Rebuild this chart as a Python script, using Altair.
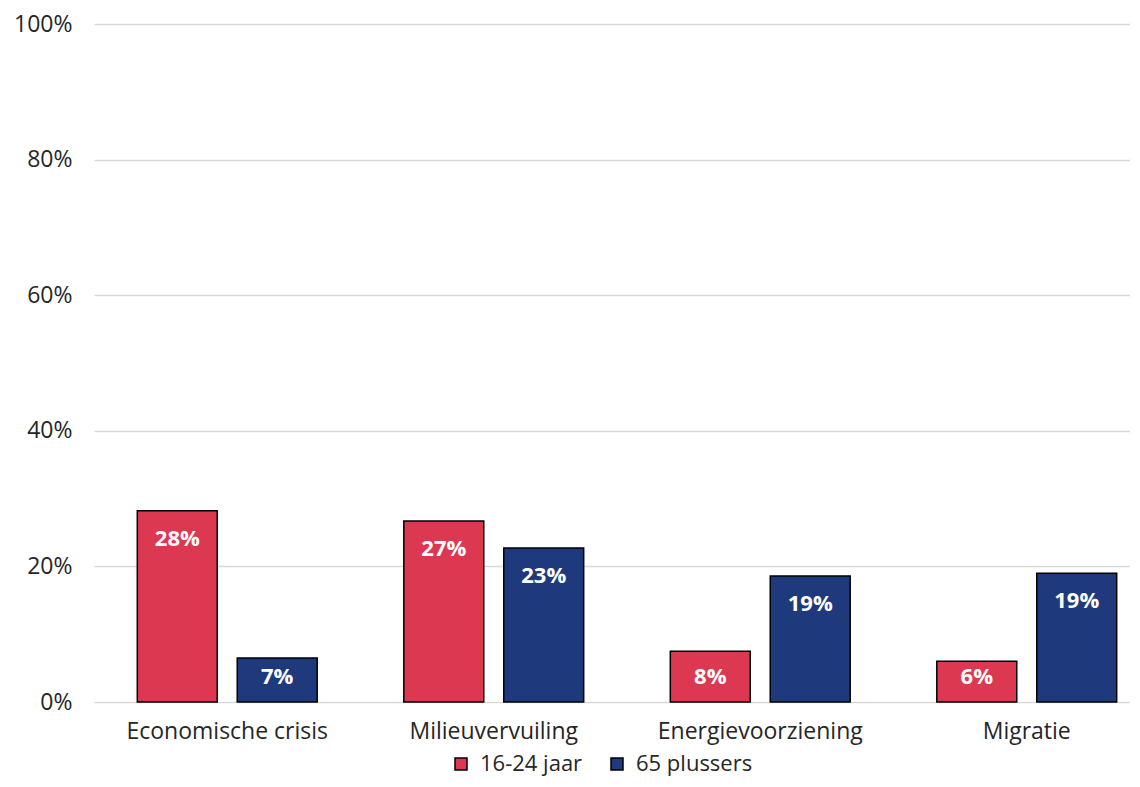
import altair as alt
import pandas as pd

categories = ["Economische crisis", "Milieuvervuiling", "Energievoorziening", "Migratie"]
groups = ["16-24 jaar", "65 plussers"]
values_young = [28.2, 26.7, 7.5, 6.0]
values_old = [6.5, 22.7, 18.6, 19.0]
labels_young = ["28%", "27%", "8%", "6%"]
labels_old = ["7%", "23%", "19%", "19%"]
colors = ["#DC3852", "#1F3A7C"]
y_ticks = [0, 20, 40, 60, 80, 100]

rows = []
for i, c in enumerate(categories):
    rows.append({"cat": c, "group": groups[0], "value": values_young[i], "label": labels_young[i]})
    rows.append({"cat": c, "group": groups[1], "value": values_old[i], "label": labels_old[i]})
df = pd.DataFrame(rows)

FONT = "Open Sans"

x = alt.X(
    "cat:N",
    sort=categories,
    scale=alt.Scale(range=[0, 1066], paddingInner=0.25, paddingOuter=0.125),
    axis=alt.Axis(title=None, labelAngle=0, labelFontSize=23, labelColor="#262626",
                  labelFont=FONT, ticks=False, domain=False, labelPadding=18, grid=False,
                  labelLimit=0),
)
xo = alt.XOffset("group:N", sort=groups, scale=alt.Scale(paddingInner=0.2, paddingOuter=0.1))

base = alt.Chart(df)

bars = base.mark_bar(stroke="black", strokeWidth=1.5).encode(
    x=x,
    xOffset=xo,
    y=alt.Y(
        "value:Q",
        scale=alt.Scale(domain=[0, 100]),
        axis=alt.Axis(title=None, values=y_ticks, labelExpr="datum.value + '%'",
                      labelFontSize=23, labelColor="#262626", labelFont=FONT,
                      ticks=False, domain=False, labelPadding=22,
                      gridColor="#d9d9d9", gridWidth=1.5),
    ),
    color=alt.Color(
        "group:N",
        scale=alt.Scale(domain=groups, range=colors),
        legend=alt.Legend(orient="none", legendX=356, legendY=729, direction="horizontal",
                          title=None, symbolType="square", symbolSize=144,
                          symbolStrokeColor="black", symbolStrokeWidth=1.5,
                          labelFontSize=22, labelFont=FONT, labelColor="#262626",
                          columnPadding=23, labelOffset=8),
    ),
)

texts = base.transform_calculate(
    ly="max(datum.value - 4.13, 3.7)"
).mark_text(color="white", fontWeight="bold", fontSize=22, font=FONT, baseline="middle").encode(
    x=x,
    xOffset=xo,
    y=alt.Y("ly:Q"),
    text="label:N",
)

chart = (bars + texts).properties(
    width=1036,
    height=678,
    autosize=alt.AutoSizeParams(type="none"),
    padding={"left": 86, "right": 0, "top": 16, "bottom": 77},
).configure_view(stroke=None)

chart.save("out.html", embed_options={"renderer": "svg", "actions": False})
